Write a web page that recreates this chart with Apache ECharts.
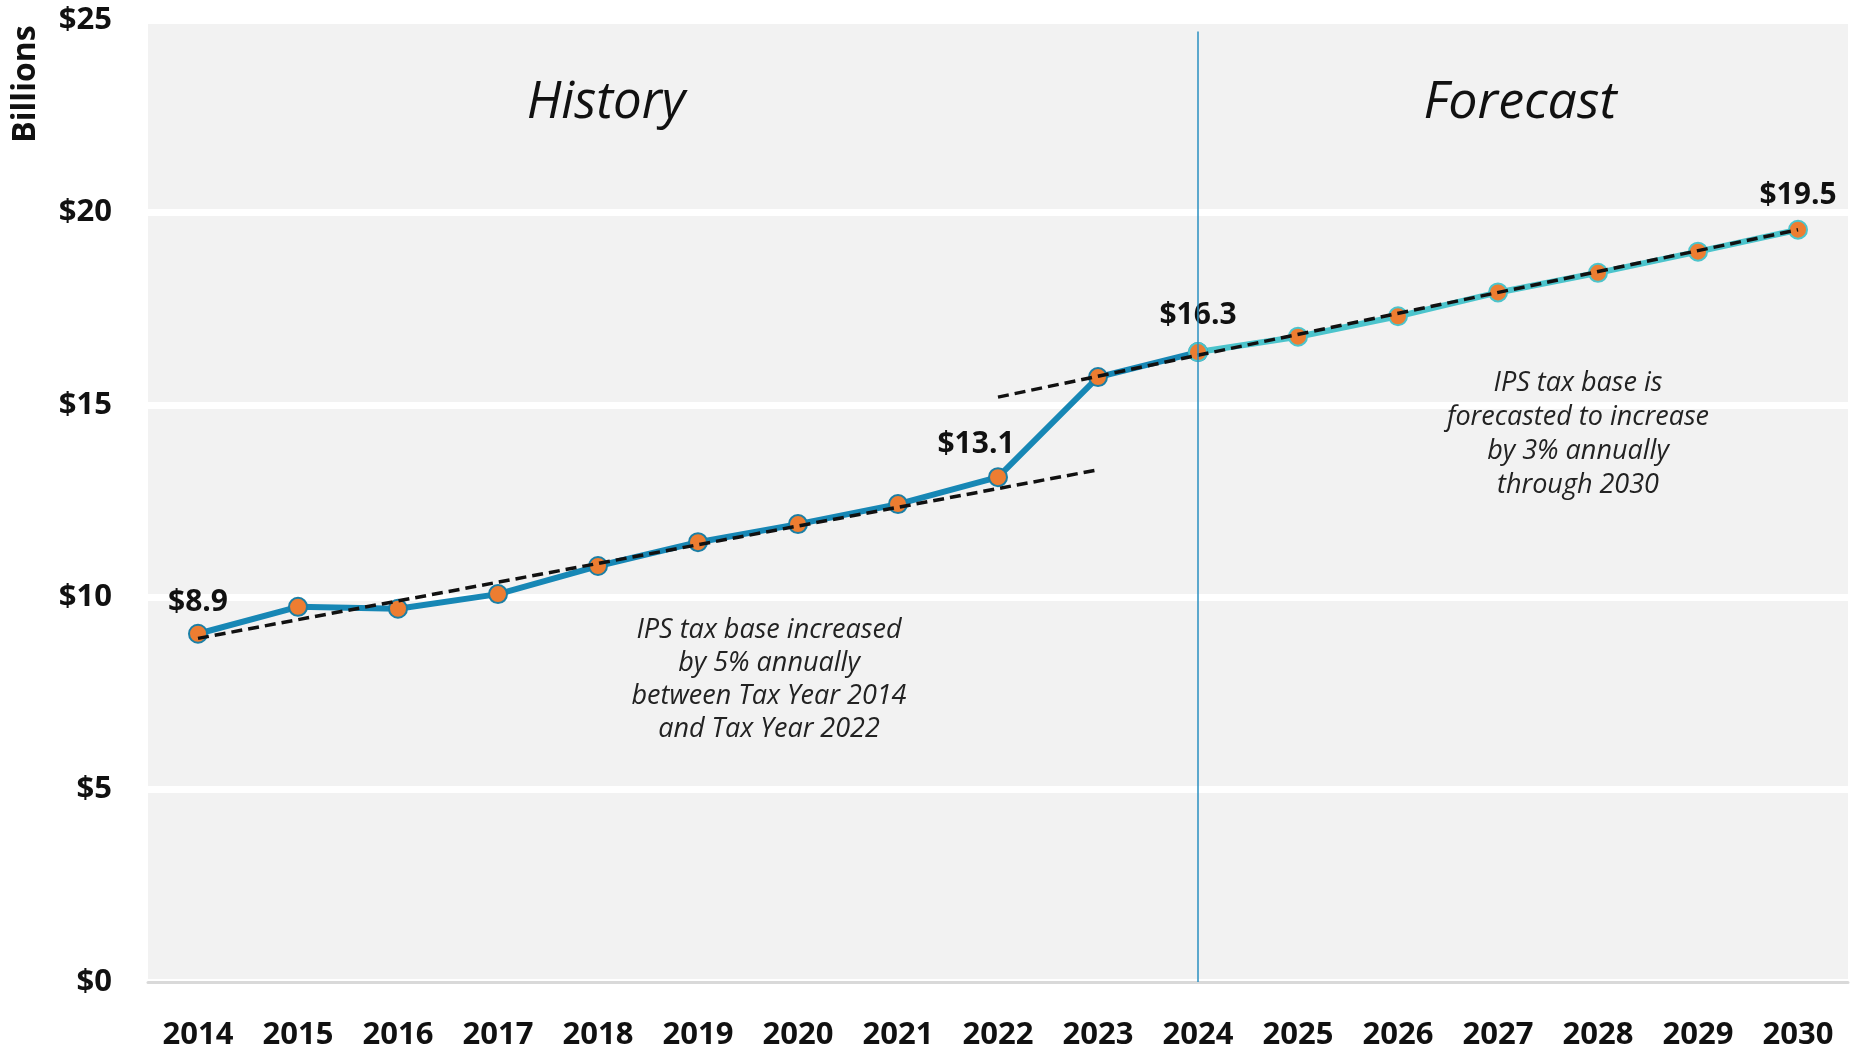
<!DOCTYPE html>
<html>
<head>
<meta charset="utf-8">
<script src="https://cdn.jsdelivr.net/npm/echarts@6/dist/echarts.min.js"></script>
<style>
html,body{margin:0;padding:0;background:#fff;}
#chart{width:1859px;height:1047px;}
</style>
</head>
<body>
<div id="chart"></div>
<script>
// ---- data ----
const years = ['2014','2015','2016','2017','2018','2019','2020','2021','2022','2023','2024','2025','2026','2027','2028','2029','2030'];
const historyValues = [9.05, 9.75, 9.70, 10.08, 10.81, 11.43, 11.90, 12.42, 13.12, 15.72, 16.37, null, null, null, null, null, null];
const forecastValues = [null, null, null, null, null, null, null, null, null, null, 16.37, 16.77, 17.30, 17.92, 18.43, 18.98, 19.55];
const historyTrend = [8.93, null, null, null, null, null, null, null, null, 13.31, null, null, null, null, null, null, null];
const forecastTrend = [null, null, null, null, null, null, null, null, 15.2, null, null, null, null, null, null, null, 19.55];
const pointLabels = {'2014':'$8.9','2022':'$13.1','2024':'$16.3','2030':'$19.5'};
const yTicks = [0, 5, 10, 15, 20, 25];
const dividerYear = '2024';

// ---- chart ----
const chart = echarts.init(document.getElementById('chart'));
const FONT = '"Open Sans", "Noto Sans", sans-serif';
const HIST_COLOR = '#1787b5';
const FC_COLOR = '#4cc4cc';
const DOT = '#ed7d31';

const labelDist = {'2014':6, '2022':8, '2024':12, '2030':9};

function labelFor(i){
  const y = years[i];
  if(!pointLabels[y]) return {show:false};
  const base = {show:true, position:'top', distance:labelDist[y], color:'#111', fontFamily:FONT, fontWeight:'bold', fontSize:30, formatter:()=>pointLabels[y]};
  if(y==='2022'){ base.offset=[-22,0]; }
  return base;
}

function withLabels(arr, skip){
  return arr.map((v,i)=>{
    if(v==null) return null;
    if(skip && skip(i)) return v;
    return {value:v, label:labelFor(i)};
  });
}

const option = {
  animation:false,
  grid:{left:148, right:11, top:20, bottom:65, show:true, backgroundColor:'#f2f2f2', borderWidth:0, containLabel:false, outerBoundsMode:'none'},
  xAxis:{
    type:'category', data:years, boundaryGap:true,
    axisLine:{show:true, lineStyle:{color:'#d9d9d9', width:3}},
    axisTick:{show:false},
    axisLabel:{color:'#111', fontFamily:FONT, fontWeight:'bold', fontSize:31, margin:38}
  },
  yAxis:{
    type:'value', min:yTicks[0], max:yTicks[yTicks.length-1], interval:5,
    axisLine:{show:false}, axisTick:{show:false},
    splitLine:{show:true, lineStyle:{color:'#ffffff', width:7}},
    axisLabel:{color:'#111', fontFamily:FONT, fontWeight:'bold', fontSize:31, margin:36, formatter:v=>'$'+v}
  },
  series:[
    {
      type:'line', data:withLabels(historyValues, i=>years[i]==='2024'), z:3,
      lineStyle:{color:HIST_COLOR, width:6},
      symbol:'circle', symbolSize:18,
      itemStyle:{color:DOT, borderColor:'#1a7fa6', borderWidth:2},
      markLine:{
        silent:true, symbol:['none','none'], label:{show:false},
        lineStyle:{color:'#2a8fc0', width:1.5, type:'solid'},
        data:[[{coord:[dividerYear, 0]},{coord:[dividerYear, 24.7]}]]
      }
    },
    {
      type:'line', data:withLabels(forecastValues), z:3,
      lineStyle:{color:FC_COLOR, width:6},
      symbol:'circle', symbolSize:18,
      itemStyle:{color:DOT, borderColor:FC_COLOR, borderWidth:2}
    },
    {
      type:'line', data:historyTrend, connectNulls:true, z:4, symbol:'none',
      lineStyle:{color:'#111', width:3.5, type:[11,6]}
    },
    {
      type:'line', data:forecastTrend, connectNulls:true, z:4, symbol:'none',
      lineStyle:{color:'#111', width:3.5, type:[11,6]}
    }
  ],
  graphic:[
    {type:'text', z:100, x:26, y:84, rotation:Math.PI/2, style:{text:'Billions', fill:'#111', font:'bold 32px '+FONT, align:'center', verticalAlign:'middle'}},
    {type:'text', z:100, x:606, y:103, style:{text:'History', fill:'#111', font:'italic 51px '+FONT, align:'center', verticalAlign:'middle'}},
    {type:'text', z:100, x:1520, y:103, style:{text:'Forecast', fill:'#111', font:'italic 52px '+FONT, align:'center', verticalAlign:'middle'}},
    {type:'text', z:100, x:769, y:680, style:{text:'IPS tax base increased\nby 5% annually\nbetween Tax Year 2014\nand Tax Year 2022', fill:'#222', font:'italic 27px '+FONT, lineHeight:33, align:'center', verticalAlign:'middle'}},
    {type:'text', z:100, x:1578, y:434, style:{text:'IPS tax base is\nforecasted to increase\nby 3% annually\nthrough 2030', fill:'#222', font:'italic 27px '+FONT, lineHeight:34, align:'center', verticalAlign:'middle'}}
  ]
};
chart.setOption(option);
</script>
</body>
</html>
